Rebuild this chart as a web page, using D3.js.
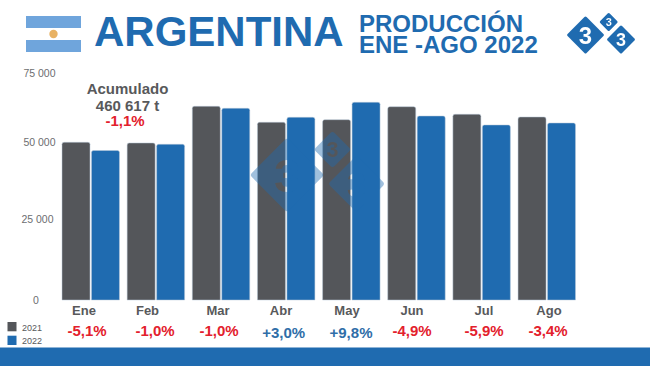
<!DOCTYPE html>
<html>
<head>
<meta charset="utf-8">
<script src="https://cdn.jsdelivr.net/npm/d3@7"></script>
<style>
  html, body { margin: 0; padding: 0; background: #fff; }
  svg { display: block; font-family: "Liberation Sans", Arial, sans-serif; }
</style>
</head>
<body>
<div id="chart"></div>
<script>
// Valeurs
const months = ["Ene", "Feb", "Mar", "Abr", "May", "Jun", "Jul", "Ago"]
const years = ["2021", "2022"]
const values2021 = [49900, 49680, 62930, 57140, 58080, 62790, 60040, 59060]
const values2022 = [47260, 49260, 62210, 58950, 64380, 59420, 56160, 56880]
const changes = ["-5,1%", "-1,0%", "-1,0%", "+3,0%", "+9,8%", "-4,9%", "-5,9%", "-3,4%"]
const yTicks = [0, 25000, 50000, 75000]

const width = 650
const height = 366
const GREY = "#54565a"
const BLUE = "#1f6bb0"
const RED = "#e3202c"
const TEXT = "#58595b"

const svg = d3.select("#chart").append("svg").attr("width", width).attr("height", height)
const defs = svg.append("defs")

// Echelles (l'axe de l'image n'est pas tout à fait régulier)
const y = d3.scaleLinear().domain(yTicks).range([300, 219.5, 142, 73])
const x = d3.scaleBand().domain(months).range([62, 575.5]).paddingInner(0.118)
const xInner = d3.scaleBand().domain(years).range([0, x.bandwidth()]).paddingInner(0.05)
const colors = d3.scaleOrdinal().domain(years).range([GREY, BLUE])

// Les libellés ne sont pas centrés sur les groupes dans l'original
const monthLabelX = d3.scaleOrdinal().domain(months).range([84, 147.5, 218, 281, 347, 412, 484, 549])
const changeLabelX = d3.scaleOrdinal().domain(months).range([87, 155, 219, 283.7, 351, 412, 484, 548])
const tickLabelX = d3.scaleOrdinal().domain(yTicks).range([36, 37.5, 39.5, 39.5])

// Barres
const rows = months.map((m, i) => ({ month: m, "2021": values2021[i], "2022": values2022[i] }))

function barPath(x0, w, top, bottom) {
  const r = 2
  return `M${x0},${bottom}V${top + r}Q${x0},${top} ${x0 + r},${top}H${x0 + w - r}Q${x0 + w},${top} ${x0 + w},${top + r}V${bottom}Z`
}

svg
  .append("g")
  .selectAll("g")
  .data(rows)
  .join("g")
  .attr("transform", (d) => `translate(${x(d.month)},0)`)
  .selectAll("path")
  .data((d) => years.map((yr) => ({ year: yr, value: d[yr] })))
  .join("path")
  .attr("d", (d) => barPath(xInner(d.year), xInner.bandwidth(), y(d.value), y(0)))
  .attr("fill", (d) => colors(d.year))
  .attr("stroke", "#b9c8d8")
  .attr("stroke-width", 0.5)

// Logo 333 : grand losange, petit en haut, moyen à droite
const logoParts = [
  { cx: 0, cy: 0, half: 19, size: 24 },
  { cx: 23.2, cy: -13, half: 9.5, size: 11 },
  { cx: 35.5, cy: 4.5, half: 14.5, size: 18 },
]

function drawLogo(id, tx, ty, scale, opacity) {
  const mask = defs.append("mask").attr("id", id).attr("maskUnits", "userSpaceOnUse")
    .attr("x", -40).attr("y", -40).attr("width", 120).attr("height", 80)
  mask.append("rect").attr("x", -40).attr("y", -40).attr("width", 120).attr("height", 80).attr("fill", "#fff")
  mask
    .selectAll("text")
    .data(logoParts)
    .join("text")
    .attr("x", (d) => d.cx)
    .attr("y", (d) => d.cy)
    .attr("dy", "0.36em")
    .attr("text-anchor", "middle")
    .attr("font-weight", "bold")
    .attr("font-size", (d) => d.size)
    .attr("fill", "#000")
    .text("3")

  const g = svg.append("g")
    .attr("transform", `translate(${tx},${ty}) scale(${scale})`)
    .attr("opacity", opacity)
    .append("g")
    .attr("mask", `url(#${id})`)
  g.selectAll("rect")
    .data(logoParts)
    .join("rect")
    .attr("x", (d) => -d.half * Math.SQRT1_2)
    .attr("y", (d) => -d.half * Math.SQRT1_2)
    .attr("width", (d) => d.half * Math.SQRT2)
    .attr("height", (d) => d.half * Math.SQRT2)
    .attr("rx", 1.5)
    .attr("transform", (d) => `translate(${d.cx},${d.cy}) rotate(45)`)
    .attr("fill", BLUE)
}

drawLogo("logo-watermark", 287, 175, 1.96, 0.42)
drawLogo("logo-top", 585.5, 35, 1, 1)

// Axe Y
const fr = d3.formatLocale({ decimal: ",", thousands: " ", grouping: [3], currency: ["", ""] })
const yAxis = d3.axisLeft(y).tickValues(yTicks).tickSize(0).tickPadding(0).tickFormat(fr.format(","))

svg
  .append("g")
  .call(yAxis)
  .call((g) => g.select(".domain").remove())
  .call((g) =>
    g
      .selectAll("text")
      .attr("x", (d) => tickLabelX(d))
      .attr("text-anchor", "middle")
      .attr("font-family", "Liberation Sans")
      .attr("font-size", "10.5px")
      .attr("fill", "#6d6e71")
  )

// Mois
svg
  .append("g")
  .selectAll("text")
  .data(months)
  .join("text")
  .attr("x", (d) => monthLabelX(d))
  .attr("y", 315)
  .attr("text-anchor", "middle")
  .attr("font-size", 13)
  .attr("font-weight", "bold")
  .attr("fill", TEXT)
  .text((d) => d)

// Variations
svg
  .append("g")
  .selectAll("text")
  .data(changes)
  .join("text")
  .attr("x", (d, i) => changeLabelX(months[i]))
  .attr("y", (d) => (d[0] === "+" ? 338 : 335.5))
  .attr("text-anchor", "middle")
  .attr("font-size", 15)
  .attr("font-weight", "bold")
  .attr("fill", (d) => (d[0] === "+" ? "#2f6ea8" : RED))
  .text((d) => d)

// Acumulado
const totals = [
  { label: "Acumulado", x: 127.5, y: 94, fill: TEXT },
  { label: "460 617 t", x: 127.5, y: 111, fill: TEXT },
  { label: "-1,1%", x: 125, y: 126, fill: RED },
]
svg
  .append("g")
  .selectAll("text")
  .data(totals)
  .join("text")
  .attr("x", (d) => d.x)
  .attr("y", (d) => d.y)
  .attr("text-anchor", "middle")
  .attr("font-size", 15)
  .attr("font-weight", "bold")
  .attr("fill", (d) => d.fill)
  .text((d) => d.label)

// Légende
const legend = svg
  .append("g")
  .selectAll("g")
  .data(years)
  .join("g")
  .attr("transform", (d, i) => `translate(7.5,${322 + i * 13.7})`)
legend.append("rect").attr("width", 9).attr("height", 9.3).attr("fill", (d) => colors(d))
legend
  .append("text")
  .attr("x", 14.5)
  .attr("y", 8.5)
  .attr("font-size", 9)
  .attr("fill", TEXT)
  .text((d) => d)

// Bandeau du bas
svg.append("rect").attr("x", 0).attr("y", 347.5).attr("width", width).attr("height", 18.5).attr("fill", BLUE)

// Drapeau
const flag = svg.append("g").attr("transform", "translate(26,16)")
flag.append("rect").attr("width", 55).attr("height", 36).attr("fill", "#6fa5dc")
flag.append("rect").attr("y", 12).attr("width", 55).attr("height", 12).attr("fill", "#fff")
flag.append("circle").attr("cx", 27.5).attr("cy", 18).attr("r", 4.2).attr("fill", "#e8b264")

// Titres
svg
  .append("text")
  .attr("x", 94)
  .attr("y", 46)
  .attr("font-size", 42)
  .attr("font-weight", "bold")
  .attr("fill", BLUE)
  .text("ARGENTINA")
svg
  .append("text")
  .attr("x", 359)
  .attr("y", 32)
  .attr("font-size", 24)
  .attr("font-weight", "bold")
  .attr("fill", BLUE)
  .text("PRODUCCIÓN")
svg
  .append("text")
  .attr("x", 359)
  .attr("y", 53)
  .attr("font-size", 24)
  .attr("font-weight", "bold")
  .attr("fill", BLUE)
  .text("ENE -AGO 2022")
</script>
</body>
</html>
